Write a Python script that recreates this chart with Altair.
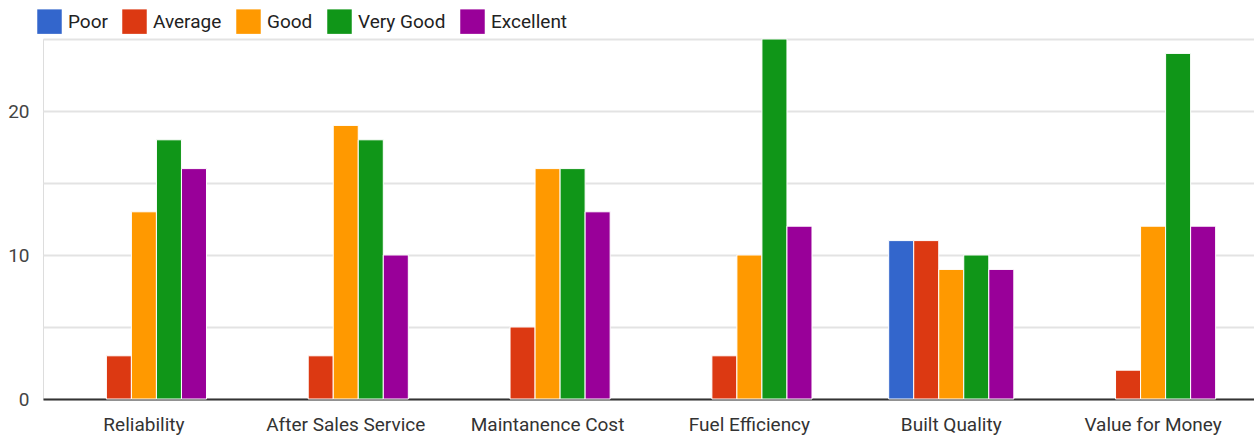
import altair as alt
import pandas as pd

# Survey categories and rating levels
categories = ["Reliability", "After Sales Service", "Maintanence Cost",
              "Fuel Efficiency", "Built Quality", "Value for Money"]
ratings = ["Poor", "Average", "Good", "Very Good", "Excellent"]
colors = ["#3366cc", "#dc3912", "#ff9900", "#109618", "#990099"]

# Response counts per category, one list per rating
poor = [0, 0, 0, 0, 11, 0]
average = [3, 3, 5, 3, 11, 2]
good = [13, 19, 16, 10, 9, 12]
very_good = [18, 18, 16, 25, 10, 24]
excellent = [16, 10, 13, 12, 9, 12]

series = [poor, average, good, very_good, excellent]
rows = []
for rating, values in zip(ratings, series):
    for cat, v in zip(categories, values):
        rows.append({"category": cat, "rating": rating, "count": v})
df = pd.DataFrame(rows)

FONT = "Liberation Sans Narrow, Roboto, Arial, sans-serif"

bars = alt.Chart(df).mark_bar(stroke="white", strokeWidth=1).encode(
    x=alt.X("category:N", sort=categories,
            scale=alt.Scale(paddingInner=0.38, paddingOuter=0.19),
            axis=alt.Axis(title=None, labelAngle=0, ticks=False, grid=False,
                          domainColor="#333333", domainWidth=2,
                          labelFontSize=19, labelColor="#333333",
                          labelPadding=16, labelFont=FONT)),
    xOffset=alt.XOffset("rating:N", sort=ratings),
    y=alt.Y("count:Q", scale=alt.Scale(domain=[0, 25], nice=False),
            axis=alt.Axis(title=None, values=[0, 5, 10, 15, 20, 25],
                          labelExpr="datum.value % 10 == 0 ? datum.label : ''",
                          domain=False, ticks=False,
                          gridColor="#e3e3e3", gridWidth=2,
                          labelFontSize=19, labelColor="#444444",
                          labelPadding=14, labelFont=FONT)),
    color=alt.Color("rating:N", sort=ratings,
                    scale=alt.Scale(domain=ratings, range=colors),
                    legend=alt.Legend(title=None, orient="none",
                                      legendX=-6, legendY=-30,
                                      direction="horizontal",
                                      symbolType="square", symbolSize=600,
                                      symbolStrokeWidth=0, symbolOpacity=1,
                                      labelFontSize=19, labelColor="#222222",
                                      labelFont=FONT, labelOffset=6,
                                      columnPadding=14)),
).transform_filter(alt.datum.count > 0)

chart = bars.properties(
    width=1211, height=360,
    padding={"left": 43, "top": 39, "right": 0, "bottom": 42},
    autosize=alt.AutoSizeParams(type="none"),
).configure_view(stroke=None).configure(background="white")

chart.save("out.html", embed_options={"renderer": "svg", "actions": False})
